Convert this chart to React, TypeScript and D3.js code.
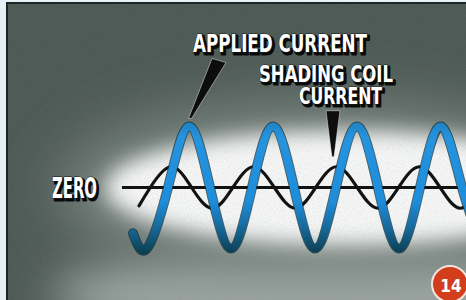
import { useEffect, useRef } from "react";
import * as d3 from "d3";

// applied current (blue), phase in degrees of the applied current, value relative to its peak
const appliedPhase = [-150, -90, 0, 90, 180, 270, 360, 450, 540, 630, 720, 810, 900, 990, 1080, 1170, 1260, 1350];
const appliedValue = [-0.75, -1, 0, 1, 0, -1, 0, 1, 0, -1, 0, 1, 0, -1, 0, 1, 0, -1];

// shading coil current (black)
const shadingPhase = [-124, -76, 12, 101, 190, 278, 367, 456, 545, 633, 722, 811, 900, 988, 1077, 1166, 1255, 1343, 1432];
const shadingValue = [-0.3, 0, 0.34, 0, -0.34, 0, 0.34, 0, -0.34, 0, 0.34, 0, -0.34, 0, 0.34, 0, -0.34, 0, 0.34];

const labels = ["APPLIED CURRENT", "SHADING COIL", "CURRENT"];
const zeroLabel = "ZERO";
const figureNumber = "14";

export default function App() {
  const ref = useRef<SVGSVGElement>(null);
  const width = 466;
  const height = 300;

  useEffect(() => {
    const svg = d3.select(ref.current);
    svg.selectAll("*").remove();

    const x = d3.scaleLinear().domain([0, 360]).range([168, 252]);
    const y = d3.scaleLinear().domain([-1, 1]).range([248.5, 126.5]);

    const defs = svg.append("defs");
    const blur = (id: string, s: number) =>
      defs.append("filter").attr("id", id).attr("x", "-50%").attr("y", "-50%").attr("width", "200%").attr("height", "200%")
        .append("feGaussianBlur").attr("stdDeviation", s);
    blur("b10", 10);
    blur("b22", 22);
    blur("b30", 30);

    const grain = defs.append("filter").attr("id", "grain");
    grain.append("feTurbulence").attr("type", "fractalNoise").attr("baseFrequency", 0.7).attr("numOctaves", 2).attr("seed", 3);
    grain.append("feColorMatrix").attr("values", "0 0 0 0 0.2  0 0 0 0 0.25  0 0 0 0 0.22  0 0 0 0.35 0");

    const grad = defs.append("linearGradient").attr("id", "blue")
      .attr("gradientUnits", "userSpaceOnUse").attr("x1", 0).attr("x2", 0).attr("y1", 122).attr("y2", 254);
    [[0, "#1f82c4"], [0.12, "#2593de"], [0.6, "#1e8ddb"], [0.8, "#17699a"], [1, "#0b3d4f"]].forEach(([o, c]) =>
      grad.append("stop").attr("offset", o as number).attr("stop-color", c as string));

    const clip = defs.append("clipPath").attr("id", "panel");
    clip.append("rect").attr("x", 8).attr("y", 4).attr("width", width).attr("height", height);

    // page + panel
    svg.append("rect").attr("width", width).attr("height", height).attr("fill", "#e5f2f5");
    svg.append("rect").attr("x", 7).attr("y", 3).attr("width", width).attr("height", height)
      .attr("fill", "#4a5651").attr("stroke", "#1c2622").attr("stroke-width", 2);

    const bg = svg.append("g").attr("clip-path", "url(#panel)");
    bg.append("ellipse").attr("cx", 340).attr("cy", 296).attr("rx", 290).attr("ry", 48)
      .attr("fill", "#a3aaa9").attr("filter", "url(#b22)");
    bg.append("ellipse").attr("cx", 320).attr("cy", 190).attr("rx", 260).attr("ry", 85)
      .attr("fill", "#7f8985").attr("filter", "url(#b30)");
    bg.append("ellipse").attr("cx", 345).attr("cy", 188).attr("rx", 240).attr("ry", 57)
      .attr("fill", "#ffffff").attr("filter", "url(#b10)");
    bg.append("rect").attr("x", 8).attr("y", 4).attr("width", width).attr("height", height)
      .attr("filter", "url(#grain)").attr("opacity", 0.6);

    const plot = svg.append("g").attr("clip-path", "url(#panel)");

    // zero line
    plot.append("line").attr("x1", 122).attr("x2", width).attr("y1", y(0)).attr("y2", y(0))
      .attr("stroke", "#121212").attr("stroke-width", 3);

    const line = d3.line().curve(d3.curveNatural);

    const shadingPts = shadingPhase.map((t, i) => [x(t), y(shadingValue[i])] as [number, number]);
    plot.append("path").attr("d", line(shadingPts))
      .attr("fill", "none").attr("stroke", "#121212").attr("stroke-width", 3.2).attr("stroke-linecap", "round");

    const appliedPts = appliedPhase.map((t, i) => [x(t), y(appliedValue[i])] as [number, number]);
    const appliedD = line(appliedPts);
    plot.append("path").attr("d", appliedD).attr("fill", "none")
      .attr("stroke", "#0c2f3b").attr("stroke-width", 10).attr("stroke-linecap", "round").attr("opacity", 0.75);
    plot.append("path").attr("d", appliedD).attr("fill", "none")
      .attr("stroke", "url(#blue)").attr("stroke-width", 8).attr("stroke-linecap", "round");

    // pointers
    const ax = x(90) + 1, ay = y(1) - 8;
    plot.append("polygon")
      .attr("points", [[ax - 1.5, ay], [ax + 1.5, ay], [ax + 36, ay - 56], [ax + 22, ay - 60]].map((p) => p.join(",")).join(" "))
      .attr("fill", "#0d0d0d").attr("stroke", "rgba(255,255,255,0.45)").attr("stroke-width", 1);
    const sx = x(722) - 3.5, sy = y(0.34) - 10;
    plot.append("polygon")
      .attr("points", [[sx - 1, sy], [sx + 1, sy], [sx + 7, sy - 46], [sx - 7, sy - 46]].map((p) => p.join(",")).join(" "))
      .attr("fill", "#0d0d0d").attr("stroke", "rgba(255,255,255,0.45)").attr("stroke-width", 1);

    // labels: black drop shadow + white lettering
    const font = "'DejaVu Sans Condensed', 'Liberation Sans Narrow', sans-serif";
    const label = (text: string, lx: number, ly: number, len: number, size: number) => {
      const g = svg.append("g").attr("font-family", font).attr("font-weight", "bold").attr("font-size", size);
      g.append("text").attr("x", lx + 2).attr("y", ly + 2).attr("textLength", len).attr("lengthAdjust", "spacingAndGlyphs")
        .attr("fill", "#0a0a0a").attr("stroke", "#0a0a0a").attr("stroke-width", 3).attr("stroke-linejoin", "round").text(text);
      g.append("text").attr("x", lx).attr("y", ly).attr("textLength", len).attr("lengthAdjust", "spacingAndGlyphs")
        .attr("fill", "#ffffff").attr("stroke", "#1a1a1a").attr("stroke-width", 1).attr("paint-order", "stroke").text(text);
    };
    label(labels[0], 193, 52, 174, 25);
    label(labels[1], 259, 82, 134, 23);
    label(labels[2], 299, 104, 83, 23);
    label(zeroLabel, 52, 198, 45, 29);

    // figure number badge
    svg.append("circle").attr("cx", 450).attr("cy", 284).attr("r", 18)
      .attr("fill", "#d23d1c").attr("stroke", "#f4e6de").attr("stroke-width", 2);
    svg.append("text").attr("x", 451).attr("y", 292).attr("text-anchor", "middle")
      .attr("font-family", font).attr("font-weight", "bold").attr("font-size", 17)
      .attr("fill", "#ffffff").text(figureNumber);
  }, []);

  return (
    <svg ref={ref} width={width} height={height} style={{ position: "absolute", left: 0, top: 0 }} />
  );
}
